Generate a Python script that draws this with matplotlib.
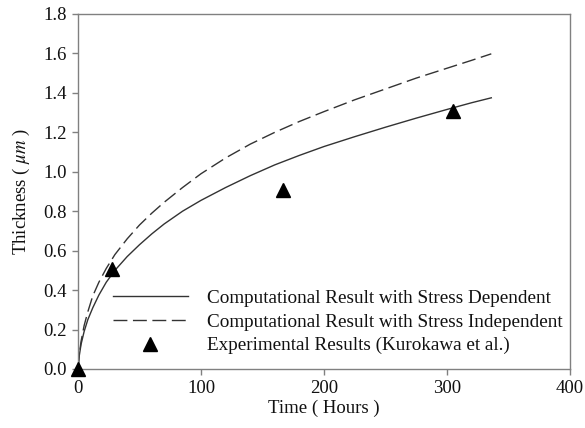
import matplotlib
matplotlib.use("Agg")
import matplotlib.pyplot as plt

plt.rcParams['font.family'] = ['Liberation Serif', 'DejaVu Serif']
plt.rcParams['mathtext.fontset'] = 'stix'

# stress dependent (solid)
t_dep = [0, 1, 2.5, 5, 8, 12, 17, 23, 30, 40, 50, 60, 70, 85, 100, 120, 140, 160, 180,
         200, 225, 250, 275, 300, 320, 336]
y_dep = [0, 0.065, 0.125, 0.19, 0.25, 0.31, 0.375, 0.44, 0.50, 0.57, 0.63, 0.685, 0.735, 0.80,
         0.855, 0.92, 0.98, 1.035, 1.083, 1.128, 1.178, 1.226, 1.272, 1.316, 1.35, 1.375]

# stress independent (dashed)
t_ind = [0, 1, 2.5, 5, 8, 12, 17, 23, 30, 40, 50, 60, 70, 85, 100, 120, 140, 160, 180,
         200, 225, 250, 275, 300, 320, 336]
y_ind = [0, 0.07, 0.14, 0.22, 0.29, 0.37, 0.44, 0.51, 0.58, 0.66, 0.73, 0.79, 0.845, 0.92,
         0.99, 1.07, 1.14, 1.20, 1.255, 1.305, 1.365, 1.42, 1.475, 1.525, 1.565, 1.598]

# experiment
t_exp = [0, 27.5, 167, 305]
y_exp = [0, 0.505, 0.908, 1.31]

fig = plt.figure(figsize=(5.85, 4.28), dpi=100)
ax = fig.add_axes([0.1333, 0.1379, 0.8411, 0.8294])

ax.plot(t_dep, y_dep, color='#333333', lw=1.0, label='Computational Result with Stress Dependent')
ax.plot(t_ind, y_ind, color='#333333', lw=1.0, dashes=(10, 4),
        label='Computational Result with Stress Independent')
ax.plot(t_exp, y_exp, ls='none', marker='^', color='black', ms=10,
        label='Experimental Results (Kurokawa et al.)', clip_on=False, zorder=5)

ax.set_xlim(0, 400)
ax.set_ylim(0, 1.8)
ax.set_xticks([0, 100, 200, 300, 400])
ax.set_yticks([0, 0.2, 0.4, 0.6, 0.8, 1.0, 1.2, 1.4, 1.6, 1.8])
ax.set_yticklabels(['%.1f' % v for v in ax.get_yticks()])

for s in ax.spines.values():
    s.set_color('#808080')
    s.set_linewidth(1.0)
ax.tick_params(direction='out', length=4, width=1, color='#808080',
               labelsize=13.5, labelcolor='#111111', top=False, right=False, pad=4)

ax.set_xlabel('Time ( Hours )', fontsize=13.5, color='#111111', labelpad=2)
ax.set_ylabel('Thickness ( $\\mu m$ )', fontsize=13.5, color='#111111', labelpad=8)

leg = ax.legend(loc='upper left', bbox_to_anchor=(0.071, 0.224), frameon=False, fontsize=13.8,
                handlelength=3.9, handletextpad=1.0, labelspacing=0.33, borderpad=0,
                borderaxespad=0, markerscale=1.0)
for txt in leg.get_texts():
    txt.set_color('#111111')

fig.savefig('out.png', dpi=100)
